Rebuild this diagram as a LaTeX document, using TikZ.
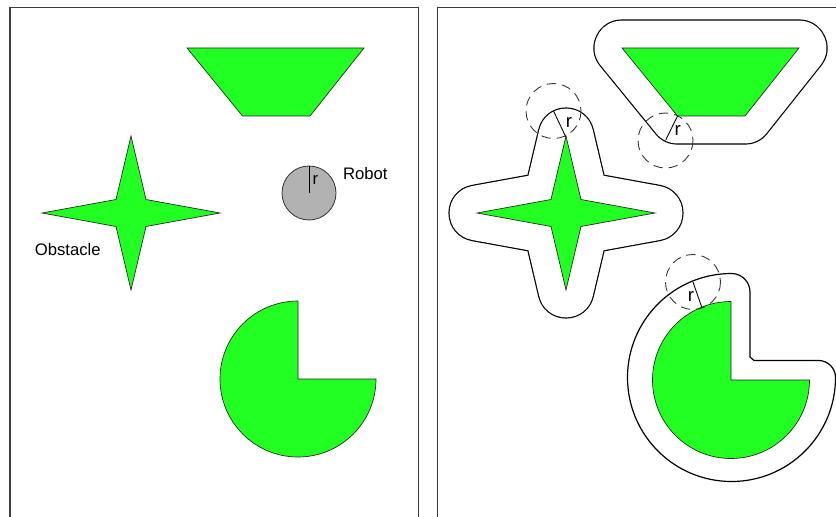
\documentclass[tikz,border=0pt]{standalone}
\usepackage{fontspec}
\setmainfont{Liberation Sans}
\definecolor{obst}{RGB}{34,255,34}
\definecolor{framecol}{RGB}{60,60,60}
\newcommand\mystar[2]{(#1,#2-77) -- (#1+15,#2-13.5) -- (#1+89,#2) -- (#1+15,#2+13.5) -- (#1,#2+77) -- (#1-15,#2+13.5) -- (#1-89,#2) -- (#1-15,#2-13.5) -- cycle}
\newcommand\mytrap[1]{(#1,48) -- (#1+177,48) -- (#1+123,116) -- (#1+55.5,116) -- cycle}
\begin{document}
\begin{tikzpicture}[x=0.75pt,y=-0.75pt,
  obstacle/.style={fill=obst,draw=black!85,line width=0.5pt},
  offsetout/.style={draw=black,line width=42.9pt,line join=round},
  offsetin/.style={draw=white,line width=41.1pt,line join=round},
  outline/.style={draw=black,line width=0.9pt},
  framebox/.style={draw=framecol,line width=1pt},
  probe/.style={draw=black!80,dash pattern=on 7pt off 4.5pt,line width=0.65pt},
  rline/.style={draw=black,line width=0.65pt},
  robotbody/.style={circle,draw=black!80,fill=black!30,line width=0.6pt,minimum size=40.5pt,inner sep=0pt},
  lbl/.style={font=\fontsize{12.5}{15}\selectfont,inner sep=0pt,anchor=base},
  rlbl/.style={font=\fontsize{14}{16}\selectfont,inner sep=0pt,anchor=base}]
\useasboundingbox (0,0) rectangle (836,517);
\clip (0,0) rectangle (836,517);
\fill[white] (0,0) rectangle (836,517);
% frames
\draw[framebox] (10,7.5) rectangle (418.5,530);
\draw[framebox] (437.3,7.5) rectangle (860,530);
% ---------- left panel ----------
\path[obstacle] \mytrap{187};
\path[obstacle] \mystar{131}{213};
\path[obstacle] (298,379) -- (298,301) arc[start angle=270,end angle=0,radius=78] -- cycle;
\node[robotbody] (robot) at (309,193) {};
\draw[rline] (robot.center) -- (robot.north);
\node[lbl] (rrobot) at (315.5,185) {r};
\node[lbl] (robotlbl) at (365.3,179) {Robot};
\node[lbl] (obstlbl) at (67.8,255) {Obstacle};
% ---------- right panel ----------
\path[offsetout] \mystar{566}{213};
\path[offsetin] \mystar{566}{213};
\path[offsetout] \mytrap{622};
\path[offsetin] \mytrap{622};
\path[outline,fill=white] (731.5,273.5) arc[start angle=270,end angle=0,radius=104]
  arc[start angle=0,end angle=-90,radius=17] -- (754,360.5) -- (750,357) -- (750,292)
  arc[start angle=0,end angle=-90,radius=18.5] -- cycle;
\path[obstacle] \mytrap{622};
\path[obstacle] \mystar{566}{213};
\path[obstacle] (731,380) -- (731,301.5) arc[start angle=270,end angle=0,radius=78.5] -- cycle;
% probes
\coordinate (c1) at (553.5,111);
\coordinate (t1) at (565.7,136.7);
\draw[probe] (c1) circle[radius=27.5];
\draw[rline] (c1) -- (t1);
\node[rlbl] (r1) at (569,127.3) {r};
\coordinate (c2) at (665.5,140.5);
\coordinate (t2) at (677.5,116);
\draw[probe] (c2) circle[radius=27.5];
\draw[rline] (c2) -- (t2);
\node[rlbl] (r2) at (677.7,135.7) {r};
\coordinate (c3) at (693,282);
\coordinate (t3) at (702,308);
\draw[probe] (c3) circle[radius=27.5];
\draw[rline] (c3) -- (t3);
\node[rlbl] (r3) at (691,301) {r};
\end{tikzpicture}
\end{document}
